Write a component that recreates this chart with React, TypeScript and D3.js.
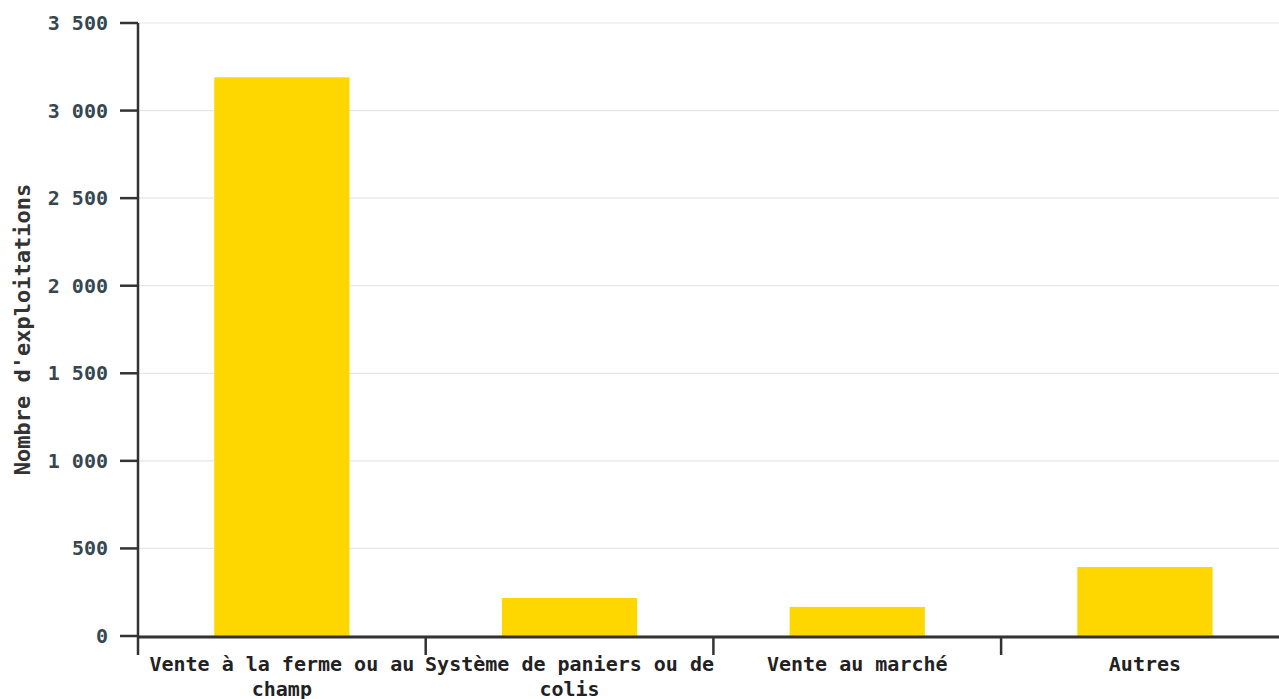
import React from "react";
import * as d3 from "d3";

const categories: string[][] = [
  ["Vente à la ferme ou au", "champ"],
  ["Système de paniers ou de", "colis"],
  ["Vente au marché"],
  ["Autres"],
];
const categoryKeys = ["ferme", "paniers", "marche", "autres"];
const values = [3190, 217, 166, 394];
const yTicks = [0, 500, 1000, 1500, 2000, 2500, 3000, 3500];
const yTitle = "Nombre d'exploitations";

const W = 1279;
const H = 699;
const left = 138;
const top = 23;
const bottom = 636;
const bandW = 287.7;

const fmt = d3.formatLocale({ decimal: ",", thousands: " ", grouping: [3], currency: ["", "€"] }).format(",d");

export default function App() {
  const x = d3.scaleBand<string>().domain(categoryKeys).range([left, left + bandW * 4]).paddingInner(0.53).paddingOuter(0.265);
  const xb = d3.scaleBand<string>().domain(categoryKeys).range([left, left + bandW * 4]).padding(0);
  const y = d3.scaleLinear().domain([0, 3500]).range([bottom, top]);
  const font = "'DejaVu Sans Mono', monospace";
  return (
    <svg width={W} height={H} style={{ position: "absolute", left: 0, top: 0, background: "#fff" }} fontFamily={font}>
      {yTicks.map((t) => (
        <line key={"g" + t} x1={left} x2={W} y1={y(t)} y2={y(t)} stroke="#e6e6e6" strokeWidth={1.2} />
      ))}
      {values.map((v, i) => (
        <rect key={categoryKeys[i]} x={x(categoryKeys[i])} width={x.bandwidth()} y={y(v)} height={y(0) - y(v)} fill="#FFD700" />
      ))}
      {yTicks.map((t) => (
        <g key={"t" + t}>
          <line x1={left - 18} x2={left} y1={y(t)} y2={y(t)} stroke="#333" strokeWidth={2.5} />
          <text x={left - 30} y={y(t)} dy="0.35em" textAnchor="end" fontSize={20} fontWeight="bold" fill="#37474f">
            {fmt(t)}
          </text>
        </g>
      ))}
      <line x1={left} x2={left} y1={top} y2={bottom + 1} stroke="#333" strokeWidth={2.5} />
      <line x1={left} x2={W} y1={bottom + 1} y2={bottom + 1} stroke="#333" strokeWidth={3} />
      {categoryKeys.map((k) => (
        <line key={"xt" + k} x1={xb(k)} x2={xb(k)} y1={bottom + 1} y2={bottom + 19} stroke="#333" strokeWidth={2.5} />
      ))}
      {categoryKeys.map((k, i) => (
        <text key={"xl" + k} x={(xb(k) as number) + xb.bandwidth() / 2} y={664} textAnchor="middle" fontSize={20} fontWeight="bold" fill="#222">
          {categories[i].map((line, j) => (
            <tspan key={j} x={(xb(k) as number) + xb.bandwidth() / 2} dy={j === 0 ? "0.35em" : 24.5}>
              {line}
            </tspan>
          ))}
        </text>
      ))}
      <text transform={`translate(22,${(top + bottom) / 2}) rotate(-90)`} textAnchor="middle" dy="0.35em" fontSize={22} fontWeight="bold" fill="#333">
        {yTitle}
      </text>
    </svg>
  );
}
